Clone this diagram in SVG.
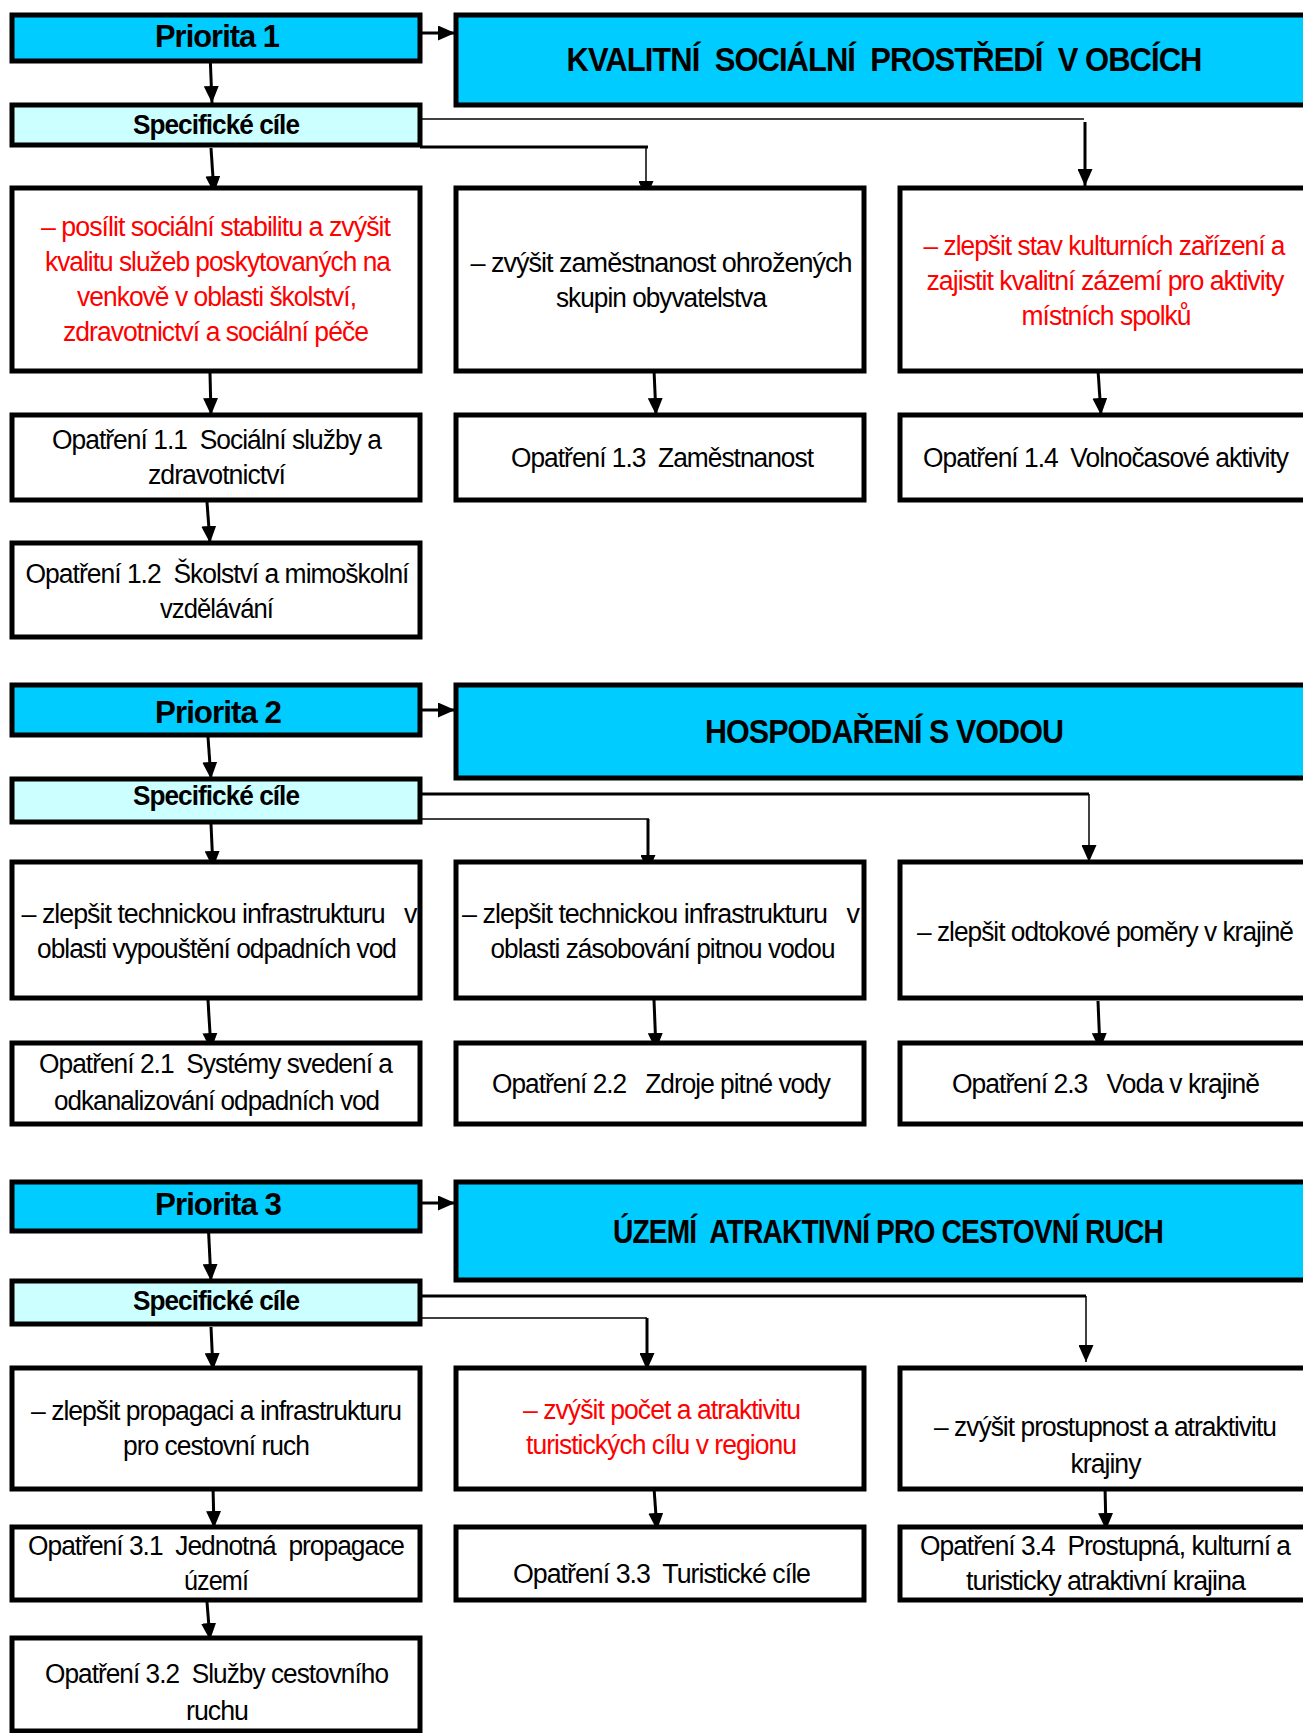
<svg xmlns="http://www.w3.org/2000/svg" width="1303" height="1733" viewBox="0 0 1303 1733" xml:space="preserve">
<defs>
<style>
.box{fill:#ffffff;stroke:#000000;stroke-width:5}
.pri{fill:#00CCFF;stroke:#000000;stroke-width:5}
.spec{fill:#CCFFFF;stroke:#000000;stroke-width:5}
text{font-family:"Liberation Sans",Arial,sans-serif;font-size:27px;letter-spacing:-1px;text-anchor:middle;fill:#000000;white-space:pre}
.red{fill:#FF0000}
.pt{font-weight:bold;font-size:32px;letter-spacing:-1px}
.tt{font-weight:bold;font-size:33px;letter-spacing:-1px}
.st{font-weight:bold;font-size:27px;letter-spacing:-1px}
.c{fill:none;stroke:#000000}
.k{stroke-width:3}
.n{stroke-width:1.5}
.a{marker-end:url(#ah)}
</style>
<marker id="ah" viewBox="0 -7.5 17 15" refX="17" refY="0" markerWidth="17" markerHeight="15" markerUnits="userSpaceOnUse" orient="auto">
<path d="M0,-7.5 L17,0 L0,7.5 z" fill="#000000"/>
</marker>
</defs>
<rect width="1303" height="1733" fill="#ffffff"/>

<g id="connectors">
<path class="c k a" d="M421,33 H455"/>
<path class="c k a" d="M210,53 L212,103"/>
<path class="c n" d="M420,119 H1084"/>
<path class="c k a" d="M1085,122 V186"/>
<path class="c k" d="M420,147 H648"/>
<path class="c n a" d="M646,147 V198"/>
<path class="c k a" d="M211,148 L214,193"/>
<path class="c k a" d="M210,373 L211,415"/>
<path class="c k a" d="M654,370 L656,415"/>
<path class="c k a" d="M1098,370 L1101,415"/>
<path class="c k a" d="M207,502 L210,543"/>

<path class="c k a" d="M415,710 H455"/>
<path class="c k a" d="M207,723 L211,779"/>
<path class="c k" d="M420,794 H1089"/>
<path class="c n a" d="M1089,794 V862"/>
<path class="c n" d="M420,819 H649"/>
<path class="c k a" d="M648,819 V872"/>
<path class="c k a" d="M211,824 L213,868"/>
<path class="c k a" d="M208,1000 L211,1050"/>
<path class="c k a" d="M654,1000 L656,1050"/>
<path class="c k a" d="M1098,1001 L1100,1050"/>

<path class="c k a" d="M421,1203 H455"/>
<path class="c k a" d="M208,1220 L211,1281"/>
<path class="c k" d="M420,1296 H1086"/>
<path class="c n a" d="M1086,1296 V1362"/>
<path class="c n" d="M420,1318 H647"/>
<path class="c k a" d="M647,1318 V1370"/>
<path class="c k a" d="M211,1327 L213,1370"/>
<path class="c k a" d="M213,1487 L214,1528"/>
<path class="c k a" d="M654,1488 L657,1530"/>
<path class="c k a" d="M1105,1487 L1106,1530"/>
<path class="c k a" d="M207,1602 L210,1640"/>
</g>

<g id="priorita1"><rect class="pri" x="12" y="15" width="408" height="46"/><text class="pt" x="217" y="47" textLength="124" lengthAdjust="spacingAndGlyphs">Priorita 1</text></g>
<g id="title1"><rect class="pri" x="456" y="15" width="860" height="90"/><text class="tt" x="884" y="71" textLength="635" lengthAdjust="spacingAndGlyphs">KVALITNÍ  SOCIÁLNÍ  PROSTŘEDÍ  V OBCÍCH</text></g>
<g id="spec1"><rect class="spec" x="12" y="105" width="408" height="40"/><text class="st" x="216" y="134" textLength="166" lengthAdjust="spacingAndGlyphs">Specifické cíle</text></g>

<g id="goal11"><rect class="box" x="12" y="188" width="408" height="183"/>
<text class="red" x="215.5" y="236" textLength="349" lengthAdjust="spacingAndGlyphs">– posílit sociální stabilitu a zvýšit</text>
<text class="red" x="217.5" y="271" textLength="345" lengthAdjust="spacingAndGlyphs">kvalitu služeb poskytovaných na</text>
<text class="red" x="216.5" y="306" textLength="279" lengthAdjust="spacingAndGlyphs">venkově v oblasti školství,</text>
<text class="red" x="215.5" y="341" textLength="305" lengthAdjust="spacingAndGlyphs">zdravotnictví a sociální péče</text></g>
<g id="goal12"><rect class="box" x="456" y="188" width="408" height="183"/>
<text x="661" y="272" textLength="381" lengthAdjust="spacingAndGlyphs">– zvýšit zaměstnanost ohrožených</text>
<text x="661" y="307" textLength="210" lengthAdjust="spacingAndGlyphs">skupin obyvatelstva</text></g>
<g id="goal13"><rect class="box" x="900" y="188" width="416" height="183"/>
<text class="red" x="1104" y="255" textLength="361" lengthAdjust="spacingAndGlyphs">– zlepšit stav kulturních zařízení a</text>
<text class="red" x="1105" y="290" textLength="357" lengthAdjust="spacingAndGlyphs">zajistit kvalitní zázemí pro aktivity</text>
<text class="red" x="1106" y="325" textLength="169" lengthAdjust="spacingAndGlyphs">místních spolků</text></g>

<g id="op11"><rect class="box" x="12" y="415" width="408" height="85"/>
<text x="216.5" y="449" textLength="329" lengthAdjust="spacingAndGlyphs">Opatření 1.1  Sociální služby a</text>
<text x="216.5" y="484" textLength="137" lengthAdjust="spacingAndGlyphs">zdravotnictví</text></g>
<g id="op13"><rect class="box" x="456" y="415" width="408" height="85"/>
<text x="662" y="467" textLength="302" lengthAdjust="spacingAndGlyphs">Opatření 1.3  Zaměstnanost</text></g>
<g id="op14"><rect class="box" x="900" y="415" width="416" height="85"/>
<text x="1105.5" y="467" textLength="365" lengthAdjust="spacingAndGlyphs">Opatření 1.4  Volnočasové aktivity</text></g>
<g id="op12"><rect class="box" x="12" y="543" width="408" height="94"/>
<text x="217" y="583" textLength="383" lengthAdjust="spacingAndGlyphs">Opatření 1.2  Školství a mimoškolní</text>
<text x="216.5" y="618" textLength="113" lengthAdjust="spacingAndGlyphs">vzdělávání</text></g>

<g id="priorita2"><rect class="pri" x="12" y="685" width="408" height="50"/><text class="pt" x="218" y="723" textLength="126" lengthAdjust="spacingAndGlyphs">Priorita 2</text></g>
<g id="title2"><rect class="pri" x="456" y="685" width="860" height="93"/><text class="tt" x="884" y="743" textLength="358" lengthAdjust="spacingAndGlyphs">HOSPODAŘENÍ S VODOU</text></g>
<g id="spec2"><rect class="spec" x="12" y="779" width="408" height="43"/><text class="st" x="216" y="805" textLength="166" lengthAdjust="spacingAndGlyphs">Specifické cíle</text></g>

<g id="goal21"><rect class="box" x="12" y="862" width="408" height="136"/>
<text x="219" y="923" textLength="395" lengthAdjust="spacingAndGlyphs">– zlepšit technickou infrastrukturu   v</text>
<text x="216.5" y="958" textLength="359" lengthAdjust="spacingAndGlyphs">oblasti vypouštění odpadních vod</text></g>
<g id="goal22"><rect class="box" x="456" y="862" width="408" height="136"/>
<text x="660.5" y="923" textLength="397" lengthAdjust="spacingAndGlyphs">– zlepšit technickou infrastrukturu   v</text>
<text x="662.5" y="958" textLength="344" lengthAdjust="spacingAndGlyphs">oblasti zásobování pitnou vodou</text></g>
<g id="goal23"><rect class="box" x="900" y="862" width="416" height="136"/>
<text x="1105" y="941" textLength="376" lengthAdjust="spacingAndGlyphs">– zlepšit odtokové poměry v krajině</text></g>

<g id="op21"><rect class="box" x="12" y="1043" width="408" height="81"/>
<text x="215.5" y="1073" textLength="353" lengthAdjust="spacingAndGlyphs">Opatření 2.1  Systémy svedení a</text>
<text x="216.5" y="1110" textLength="325" lengthAdjust="spacingAndGlyphs">odkanalizování odpadních vod</text></g>
<g id="op22"><rect class="box" x="456" y="1043" width="408" height="81"/>
<text x="661" y="1093" textLength="338" lengthAdjust="spacingAndGlyphs">Opatření 2.2   Zdroje pitné vody</text></g>
<g id="op23"><rect class="box" x="900" y="1043" width="416" height="81"/>
<text x="1105.5" y="1093" textLength="307" lengthAdjust="spacingAndGlyphs">Opatření 2.3   Voda v krajině</text></g>

<g id="priorita3"><rect class="pri" x="12" y="1182" width="408" height="49"/><text class="pt" x="218" y="1215" textLength="126" lengthAdjust="spacingAndGlyphs">Priorita 3</text></g>
<g id="title3"><rect class="pri" x="456" y="1182" width="860" height="98"/><text class="tt" x="888" y="1243" textLength="550" lengthAdjust="spacingAndGlyphs">ÚZEMÍ  ATRAKTIVNÍ PRO CESTOVNÍ RUCH</text></g>
<g id="spec3"><rect class="spec" x="12" y="1281" width="408" height="43"/><text class="st" x="216" y="1310" textLength="166" lengthAdjust="spacingAndGlyphs">Specifické cíle</text></g>

<g id="goal31"><rect class="box" x="12" y="1368" width="408" height="121"/>
<text x="216" y="1420" textLength="370" lengthAdjust="spacingAndGlyphs">– zlepšit propagaci a infrastrukturu</text>
<text x="216" y="1455" textLength="186" lengthAdjust="spacingAndGlyphs">pro cestovní ruch</text></g>
<g id="goal32"><rect class="box" x="456" y="1368" width="408" height="121"/>
<text class="red" x="661.5" y="1419" textLength="277" lengthAdjust="spacingAndGlyphs">– zvýšit počet a atraktivitu</text>
<text class="red" x="661" y="1454" textLength="270" lengthAdjust="spacingAndGlyphs">turistických cílu v regionu</text></g>
<g id="goal33"><rect class="box" x="900" y="1368" width="416" height="121"/>
<text x="1105" y="1436" textLength="342" lengthAdjust="spacingAndGlyphs">– zvýšit prostupnost a atraktivitu</text>
<text x="1105.5" y="1473" textLength="70" lengthAdjust="spacingAndGlyphs">krajiny</text></g>

<g id="op31"><rect class="box" x="12" y="1527" width="408" height="73"/>
<text x="216" y="1555" textLength="376" lengthAdjust="spacingAndGlyphs">Opatření 3.1  Jednotná  propagace</text>
<text x="216" y="1590" textLength="64" lengthAdjust="spacingAndGlyphs">území</text></g>
<g id="op33"><rect class="box" x="456" y="1527" width="408" height="73"/>
<text x="661.5" y="1583" textLength="297" lengthAdjust="spacingAndGlyphs">Opatření 3.3  Turistické cíle</text></g>
<g id="op34"><rect class="box" x="900" y="1527" width="416" height="73"/>
<text x="1105" y="1555" textLength="370" lengthAdjust="spacingAndGlyphs">Opatření 3.4  Prostupná, kulturní a</text>
<text x="1105.5" y="1590" textLength="279" lengthAdjust="spacingAndGlyphs">turisticky atraktivní krajina</text></g>
<g id="op32"><rect class="box" x="12" y="1638" width="408" height="93"/>
<text x="216.5" y="1683" textLength="343" lengthAdjust="spacingAndGlyphs">Opatření 3.2  Služby cestovního</text>
<text x="217" y="1720" textLength="62" lengthAdjust="spacingAndGlyphs">ruchu</text></g>
</svg>
